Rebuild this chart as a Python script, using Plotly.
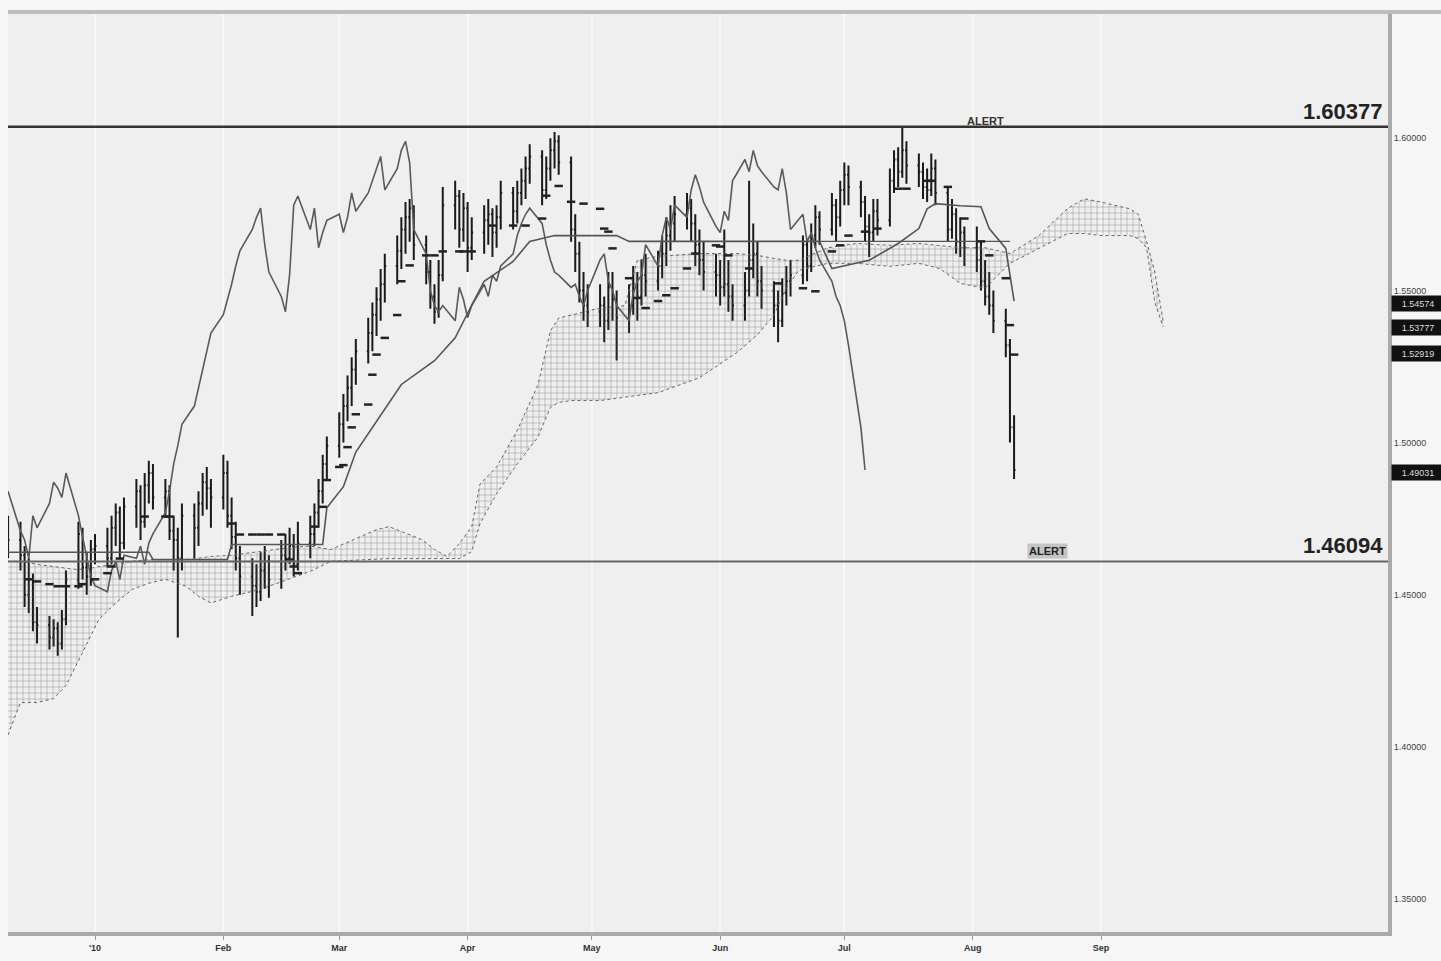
import pandas as pd
import plotly.graph_objects as go

# ---------------- data ----------------
trade_dates = pd.bdate_range("2009-12-11", "2010-08-11")

opens = [
    1.472,
    1.468, 1.463, 1.450, 1.455, 1.441,
    1.440, 1.436, 1.439, 1.434, 1.442,
    1.455, 1.470, 1.459, 1.456, 1.465,
    1.466, 1.462, 1.472, 1.477, 1.467,
    1.479, 1.484, 1.474, 1.486, 1.490,
    1.482, 1.484, 1.471, 1.468, 1.462,
    1.476, 1.472, 1.480, 1.487, 1.485,
    1.482, 1.490, 1.476, 1.469, 1.462,
    1.456, 1.453, 1.451, 1.458, 1.461,
    1.455, 1.463, 1.462, 1.466, 1.460,
    1.467, 1.470, 1.477, 1.484, 1.493,
    1.499, 1.506, 1.512, 1.518, 1.524,
    1.530, 1.536, 1.542, 1.547, 1.552,
    1.558, 1.563, 1.570, 1.574, 1.577,
    1.565, 1.556, 1.548, 1.543, 1.555,
    1.578, 1.581, 1.570, 1.577, 1.564,
    1.569, 1.573, 1.575, 1.569, 1.574,
    1.582, 1.576, 1.582, 1.586, 1.590,
    1.594, 1.583, 1.590, 1.596, 1.599,
    1.592, 1.570, 1.562, 1.550, 1.545,
    1.543, 1.545, 1.540, 1.551, 1.547,
    1.541, 1.545, 1.552, 1.548, 1.555,
    1.553, 1.558, 1.562, 1.568, 1.572,
    1.575, 1.577, 1.572, 1.565, 1.560,
    1.556, 1.555, 1.551, 1.552, 1.548,
    1.545, 1.550, 1.560, 1.562, 1.553,
    1.550, 1.545, 1.540, 1.549, 1.553,
    1.555, 1.565, 1.558, 1.568, 1.574,
    1.570, 1.578, 1.574, 1.583, 1.588,
    1.584, 1.579, 1.571, 1.569, 1.576,
    1.573, 1.586, 1.593, 1.589, 1.596,
    1.591, 1.589, 1.584, 1.583, 1.590,
    1.582, 1.570, 1.575, 1.566, 1.569,
    1.564, 1.560, 1.553, 1.548, 1.545,
    1.540, 1.532, 1.505,
]
highs = [
    1.476,
    1.474, 1.466, 1.462, 1.457, 1.446,
    1.443, 1.442, 1.441, 1.445, 1.458,
    1.474, 1.472, 1.464, 1.468, 1.470,
    1.472, 1.476, 1.480, 1.479, 1.482,
    1.488, 1.486, 1.490, 1.494, 1.493,
    1.488, 1.486, 1.476, 1.472, 1.480,
    1.480, 1.484, 1.490, 1.492, 1.488,
    1.496, 1.494, 1.482, 1.474, 1.466,
    1.462, 1.460, 1.464, 1.466, 1.463,
    1.468, 1.470, 1.472, 1.470, 1.474,
    1.476, 1.480, 1.488, 1.496, 1.502,
    1.510, 1.516, 1.522, 1.528, 1.534,
    1.541, 1.546, 1.551, 1.557, 1.562,
    1.568, 1.574, 1.579, 1.580, 1.578,
    1.568, 1.560, 1.552, 1.560, 1.584,
    1.586, 1.583, 1.582, 1.579, 1.574,
    1.578, 1.580, 1.577, 1.578, 1.586,
    1.584, 1.586, 1.590, 1.594, 1.598,
    1.596, 1.594, 1.600, 1.602, 1.601,
    1.594, 1.575, 1.566, 1.556, 1.552,
    1.552, 1.548, 1.556, 1.556, 1.550,
    1.552, 1.558, 1.556, 1.560, 1.562,
    1.563, 1.568, 1.574, 1.578, 1.581,
    1.582, 1.580, 1.575, 1.570, 1.566,
    1.562, 1.560, 1.570, 1.560, 1.552,
    1.556, 1.586, 1.572, 1.566, 1.558,
    1.553, 1.550, 1.554, 1.558, 1.560,
    1.568, 1.567, 1.572, 1.578, 1.576,
    1.582, 1.580, 1.586, 1.592, 1.591,
    1.586, 1.581, 1.575, 1.580, 1.580,
    1.590, 1.596, 1.597, 1.604, 1.599,
    1.595, 1.592, 1.590, 1.595, 1.593,
    1.584, 1.580, 1.577, 1.574, 1.571,
    1.571, 1.566, 1.560, 1.556, 1.550,
    1.544, 1.534, 1.509,
]
lows = [
    1.462,
    1.458, 1.446, 1.444, 1.438, 1.434,
    1.432, 1.433, 1.430, 1.432, 1.440,
    1.452, 1.455, 1.450, 1.453, 1.460,
    1.459, 1.460, 1.466, 1.462, 1.465,
    1.472, 1.468, 1.472, 1.480, 1.478,
    1.476, 1.468, 1.458, 1.436, 1.458,
    1.462, 1.466, 1.476, 1.478, 1.472,
    1.478, 1.472, 1.465, 1.458, 1.450,
    1.443, 1.446, 1.448, 1.452, 1.449,
    1.452, 1.458, 1.460, 1.456, 1.458,
    1.462, 1.466, 1.472, 1.480, 1.488,
    1.495, 1.500, 1.507, 1.512, 1.519,
    1.526, 1.530, 1.535, 1.540, 1.546,
    1.552, 1.557, 1.562, 1.566, 1.560,
    1.552, 1.544, 1.539, 1.541, 1.553,
    1.570, 1.564, 1.566, 1.556, 1.560,
    1.562, 1.565, 1.561, 1.564, 1.570,
    1.570, 1.572, 1.578, 1.580, 1.585,
    1.578, 1.580, 1.586, 1.590, 1.588,
    1.566, 1.556, 1.546, 1.540, 1.538,
    1.538, 1.533, 1.537, 1.540, 1.527,
    1.536, 1.542, 1.540, 1.545, 1.548,
    1.550, 1.554, 1.558, 1.563, 1.566,
    1.570, 1.566, 1.558, 1.555, 1.550,
    1.548, 1.545, 1.548, 1.543, 1.540,
    1.540, 1.548, 1.554, 1.548, 1.544,
    1.538, 1.533, 1.538, 1.545, 1.548,
    1.552, 1.553, 1.556, 1.564, 1.565,
    1.568, 1.566, 1.571, 1.578, 1.578,
    1.574, 1.566, 1.561, 1.566, 1.568,
    1.571, 1.582, 1.584, 1.587, 1.585,
    1.584, 1.580, 1.579, 1.581, 1.578,
    1.566, 1.567, 1.562, 1.561, 1.558,
    1.556, 1.550, 1.545, 1.542, 1.536,
    1.528, 1.500, 1.488,
]
closes = [
    1.468,
    1.463, 1.450, 1.455, 1.441, 1.440,
    1.436, 1.439, 1.434, 1.442, 1.455,
    1.470, 1.459, 1.456, 1.465, 1.466,
    1.462, 1.472, 1.477, 1.467, 1.479,
    1.484, 1.474, 1.486, 1.490, 1.482,
    1.484, 1.471, 1.468, 1.462, 1.476,
    1.472, 1.480, 1.487, 1.485, 1.482,
    1.490, 1.476, 1.469, 1.462, 1.456,
    1.453, 1.451, 1.458, 1.461, 1.455,
    1.463, 1.462, 1.466, 1.460, 1.467,
    1.470, 1.477, 1.484, 1.493, 1.499,
    1.506, 1.512, 1.518, 1.524, 1.530,
    1.536, 1.542, 1.547, 1.552, 1.558,
    1.563, 1.570, 1.574, 1.577, 1.565,
    1.556, 1.548, 1.543, 1.555, 1.578,
    1.581, 1.570, 1.577, 1.564, 1.569,
    1.573, 1.575, 1.569, 1.574, 1.582,
    1.576, 1.582, 1.586, 1.590, 1.594,
    1.583, 1.590, 1.596, 1.599, 1.592,
    1.570, 1.562, 1.550, 1.545, 1.543,
    1.545, 1.540, 1.551, 1.547, 1.541,
    1.545, 1.552, 1.548, 1.555, 1.553,
    1.558, 1.562, 1.568, 1.572, 1.575,
    1.577, 1.572, 1.565, 1.560, 1.556,
    1.555, 1.551, 1.552, 1.548, 1.545,
    1.550, 1.560, 1.562, 1.553, 1.550,
    1.545, 1.540, 1.549, 1.553, 1.555,
    1.565, 1.558, 1.568, 1.574, 1.570,
    1.578, 1.574, 1.583, 1.588, 1.584,
    1.579, 1.571, 1.569, 1.576, 1.573,
    1.586, 1.593, 1.589, 1.596, 1.591,
    1.589, 1.584, 1.583, 1.590, 1.582,
    1.570, 1.575, 1.566, 1.569, 1.564,
    1.560, 1.553, 1.548, 1.545, 1.540,
    1.532, 1.505, 1.491,
]
assert len(trade_dates) == len(opens) == len(highs) == len(lows) == len(closes)

CHIKOU_SHIFT = 26  # lagging span: close drawn 26 bars back

# Tenkan-sen (drawn as dash markers)
tenkan_points = [
    ("2009-12-16", 1.4551), ("2009-12-18", 1.4544), ("2009-12-21", 1.4535), ("2009-12-23", 1.4528),
    ("2009-12-25", 1.4528), ("2009-12-28", 1.4528), ("2009-12-29", 1.4535), ("2010-01-01", 1.4551),
    ("2010-01-04", 1.4571), ("2010-01-05", 1.4593), ("2010-01-07", 1.4619), ("2010-01-13", 1.4757),
    ("2010-01-18", 1.4757), ("2010-01-19", 1.4757), ("2010-02-03", 1.4734), ("2010-02-05", 1.4698),
    ("2010-02-08", 1.4698), ("2010-02-10", 1.4698), ("2010-02-12", 1.4698), ("2010-02-15", 1.4698),
    ("2010-02-17", 1.4616), ("2010-02-18", 1.4593), ("2010-02-19", 1.4571), ("2010-02-23", 1.4724),
    ("2010-02-25", 1.4789), ("2010-02-26", 1.4877), ("2010-03-01", 1.4920), ("2010-03-02", 1.4926),
    ("2010-03-03", 1.4985), ("2010-03-04", 1.5050), ("2010-03-05", 1.5093), ("2010-03-08", 1.5125),
    ("2010-03-09", 1.5223), ("2010-03-10", 1.5289), ("2010-03-12", 1.5344), ("2010-03-15", 1.5419),
    ("2010-03-16", 1.5530), ("2010-03-18", 1.5582), ("2010-03-22", 1.5615), ("2010-03-24", 1.5615),
    ("2010-03-26", 1.5628), ("2010-03-30", 1.5628), ("2010-03-31", 1.5628), ("2010-04-02", 1.5628),
    ("2010-04-07", 1.5713), ("2010-04-12", 1.5713), ("2010-04-15", 1.5713), ("2010-04-19", 1.5736),
    ("2010-04-20", 1.5811), ("2010-04-23", 1.5843), ("2010-04-26", 1.5791), ("2010-04-29", 1.5785),
    ("2010-05-03", 1.5768), ("2010-05-04", 1.5703), ("2010-05-05", 1.5693), ("2010-05-06", 1.5638),
    ("2010-05-10", 1.5540), ("2010-05-12", 1.5475), ("2010-05-14", 1.5442), ("2010-05-17", 1.5465),
    ("2010-05-19", 1.5484), ("2010-05-21", 1.5507), ("2010-05-24", 1.5572), ("2010-05-26", 1.5621),
    ("2010-05-31", 1.5648), ("2010-06-01", 1.5644), ("2010-06-03", 1.5615), ("2010-06-08", 1.5572),
    ("2010-06-15", 1.5523), ("2010-06-21", 1.5507), ("2010-06-24", 1.5497), ("2010-06-28", 1.5628),
    ("2010-06-30", 1.5648), ("2010-07-02", 1.5680), ("2010-07-06", 1.5693), ("2010-07-09", 1.5703),
    ("2010-07-14", 1.5834), ("2010-07-16", 1.5834), ("2010-07-21", 1.5860), ("2010-07-22", 1.5860),
    ("2010-07-26", 1.5840), ("2010-07-30", 1.5736), ("2010-08-03", 1.5661), ("2010-08-05", 1.5615),
    ("2010-08-09", 1.5540), ("2010-08-10", 1.5386), ("2010-08-11", 1.5289),
]

# Kijun-sen (solid line)
kijun_points = [
    ("2009-12-11", 1.4640), ("2010-01-14", 1.4640), ("2010-01-15", 1.4616), ("2010-02-02", 1.4616),
    ("2010-02-03", 1.4665), ("2010-02-25", 1.4665), ("2010-02-26", 1.4786), ("2010-03-02", 1.4855),
    ("2010-03-05", 1.4969), ("2010-03-09", 1.5050), ("2010-03-16", 1.5191), ("2010-03-24", 1.5269),
    ("2010-03-29", 1.5344), ("2010-04-02", 1.5452), ("2010-04-05", 1.5530), ("2010-04-12", 1.5595),
    ("2010-04-16", 1.5661), ("2010-04-22", 1.5680), ("2010-05-07", 1.5680), ("2010-05-10", 1.5661),
    ("2010-06-25", 1.5661), ("2010-06-28", 1.5572), ("2010-07-07", 1.5599), ("2010-07-14", 1.5654),
    ("2010-07-19", 1.5703), ("2010-07-21", 1.5768), ("2010-07-23", 1.5785), ("2010-07-29", 1.5778),
    ("2010-08-03", 1.5775), ("2010-08-05", 1.5703), ("2010-08-09", 1.5638), ("2010-08-11", 1.5465),
]

# flat span-B level line
flat_points = [("2010-06-25", 1.5661), ("2010-08-10", 1.5661)]

# Kumo (cloud): date, upper span, lower span
cloud_dates = [
    "2009-12-11", "2009-12-14", "2009-12-18", "2009-12-22", "2009-12-25", "2009-12-27", "2009-12-30",
    "2010-01-02", "2010-01-06", "2010-01-10", "2010-01-14", "2010-01-18", "2010-01-23", "2010-01-26",
    "2010-01-29", "2010-02-03", "2010-02-10", "2010-02-17", "2010-02-22", "2010-02-27", "2010-03-10",
    "2010-03-13", "2010-03-21", "2010-03-24", "2010-03-27", "2010-03-30", "2010-04-02", "2010-04-04",
    "2010-04-08", "2010-04-13", "2010-04-18", "2010-04-21", "2010-04-23", "2010-04-26", "2010-05-03",
    "2010-05-09", "2010-05-12", "2010-05-17", "2010-05-27", "2010-06-05", "2010-06-10", "2010-06-14",
    "2010-06-17", "2010-06-20", "2010-06-27", "2010-07-04", "2010-07-12", "2010-07-19", "2010-07-24",
    "2010-07-29", "2010-08-04", "2010-08-10", "2010-08-17", "2010-08-24", "2010-08-28", "2010-09-01",
    "2010-09-08", "2010-09-10", "2010-09-12", "2010-09-14", "2010-09-16",
]
cloud_upper = [
    1.4610, 1.4610, 1.4600, 1.4593, 1.4587, 1.4584, 1.4584,
    1.4593, 1.4600, 1.4610, 1.4616, 1.4616, 1.4616, 1.4620,
    1.4626, 1.4630, 1.4642, 1.4655, 1.4660, 1.4649, 1.4714,
    1.4724, 1.4681, 1.4649, 1.4626, 1.4668, 1.4724, 1.4864,
    1.4920, 1.5040, 1.5190, 1.5367, 1.5409, 1.5419, 1.5442,
    1.5450, 1.5599, 1.5612, 1.5621, 1.5621, 1.5615, 1.5605,
    1.5599, 1.5599, 1.5640, 1.5654, 1.5648, 1.5654, 1.5648,
    1.5640, 1.5640, 1.5621, 1.5680, 1.5770, 1.5801, 1.5790,
    1.5768, 1.5750, 1.5661, 1.5560, 1.5400,
]
cloud_lower = [
    1.4040, 1.4146, 1.4146, 1.4159, 1.4202, 1.4257, 1.4342,
    1.4420, 1.4473, 1.4518, 1.4538, 1.4551, 1.4528, 1.4495,
    1.4473, 1.4495, 1.4518, 1.4551, 1.4577, 1.4610, 1.4619,
    1.4619, 1.4619, 1.4619, 1.4619, 1.4619, 1.4642, 1.4734,
    1.4832, 1.4930, 1.5018, 1.5116, 1.5132, 1.5138, 1.5138,
    1.5148, 1.5155, 1.5164, 1.5213, 1.5295, 1.5354, 1.5419,
    1.5507, 1.5566, 1.5589, 1.5589, 1.5579, 1.5589, 1.5572,
    1.5523, 1.5507, 1.5589, 1.5638, 1.5687, 1.5687, 1.5680,
    1.5680, 1.5670, 1.5640, 1.5460, 1.5380,
]

alert_levels = [1.60377, 1.46094]
alert_texts = ["1.60377", "1.46094"]
y_ticks = [1.35, 1.40, 1.45, 1.50, 1.55, 1.60]
month_ticks = ["2010-01-01", "2010-02-01", "2010-03-01", "2010-04-01", "2010-05-01",
               "2010-06-01", "2010-07-01", "2010-08-01", "2010-09-01"]
month_labels = ["'10", "Feb", "Mar", "Apr", "May", "Jun", "Jul", "Aug", "Sep"]
side_boxes = [(1.5458, "1.54574"), (1.5377, "1.53777"), (1.5292, "1.52919"), (1.4903, "1.49031")]

# ---------------- figure ----------------
fig = go.Figure()

# cloud
fig.add_trace(go.Scatter(x=cloud_dates, y=cloud_lower, mode="lines",
                         line=dict(color="#666", width=1, dash="dot"),
                         hoverinfo="skip", showlegend=False))
fig.add_trace(go.Scatter(x=cloud_dates, y=cloud_upper, mode="lines",
                         line=dict(color="#666", width=1, dash="dot"),
                         fill="tonexty", fillcolor="rgba(0,0,0,0)",
                         fillpattern=dict(shape="+", fgcolor="#555", size=6, solidity=0.2,
                                          bgcolor="rgba(0,0,0,0)"),
                         hoverinfo="skip", showlegend=False))

# chikou span
fig.add_trace(go.Scatter(x=list(trade_dates[:-CHIKOU_SHIFT]), y=closes[CHIKOU_SHIFT:], mode="lines",
                         line=dict(color="#5a5a5a", width=1.6), showlegend=False))

# kijun
kx, ky = zip(*kijun_points)
fig.add_trace(go.Scatter(x=list(kx), y=list(ky), mode="lines",
                         line=dict(color="#555", width=1.6), showlegend=False))
fx, fy = zip(*flat_points)
fig.add_trace(go.Scatter(x=list(fx), y=list(fy), mode="lines",
                         line=dict(color="#555", width=1.4), showlegend=False))

# price bars
fig.add_trace(go.Ohlc(x=trade_dates, open=opens, high=highs, low=lows, close=closes,
                      increasing=dict(line=dict(color="#1a1a1a", width=2)),
                      decreasing=dict(line=dict(color="#1a1a1a", width=2)),
                      tickwidth=0.35, showlegend=False))

# tenkan markers
tx, ty = zip(*tenkan_points)
fig.add_trace(go.Scatter(x=list(tx), y=list(ty), mode="markers",
                         marker=dict(symbol="line-ew", size=6,
                                     line=dict(color="#222", width=2.5)),
                         showlegend=False))

# alert lines
fig.add_hline(y=alert_levels[0], line=dict(color="#333", width=2.5))
fig.add_hline(y=alert_levels[1], line=dict(color="#666", width=2))

# top frame line
fig.add_shape(type="line", xref="paper", yref="paper", x0=0, x1=1.04, y0=1, y1=1,
              line=dict(color="#bdbdbd", width=4))

annotations = [
    dict(x="2010-08-04", y=alert_levels[0], xref="x", yref="y", text="<b>ALERT</b>",
         showarrow=False, yanchor="bottom", yshift=-2, font=dict(size=11, color="#333")),
    dict(x=1, y=alert_levels[0], xref="paper", yref="y", text="<b>" + alert_texts[0] + "</b>",
         showarrow=False, xanchor="right", yanchor="bottom", xshift=-3, yshift=1,
         font=dict(size=22, color="#222")),
    dict(x="2010-08-19", y=alert_levels[1], xref="x", yref="y", text="<b>ALERT</b>",
         showarrow=False, yanchor="bottom", yshift=3, bgcolor="#c4c4c4", borderpad=1,
         font=dict(size=11, color="#222")),
    dict(x=1, y=alert_levels[1], xref="paper", yref="y", text="<b>" + alert_texts[1] + "</b>",
         showarrow=False, xanchor="right", yanchor="bottom", xshift=-3, yshift=2,
         font=dict(size=22, color="#222")),
]
for val, txt in side_boxes:
    annotations.append(dict(x=1, y=val, xref="paper", yref="y", text=txt, showarrow=False,
                            xanchor="left", xshift=3, bgcolor="#111", width=50, height=13,
                            font=dict(size=9, color="#ddd")))

fig.update_layout(
    width=1441, height=961,
    margin=dict(l=8, r=53, t=12, b=23),
    paper_bgcolor="#f6f6f6", plot_bgcolor="#efefef",
    font=dict(family="Liberation Sans, Arial, sans-serif", color="#333"),
    annotations=annotations,
    xaxis=dict(type="date", range=["2009-12-10 23:40", "2010-11-09 07:40"],
               rangeslider=dict(visible=False),
               tickvals=month_ticks, ticktext=["<b>" + m + "</b>" for m in month_labels],
               tickfont=dict(size=9, color="#333"),
               ticks="outside", ticklen=4, tickcolor="#999",
               showgrid=True, gridcolor="#f7f7f7", gridwidth=1.5,
               showline=True, linecolor="#aaaaaa", linewidth=4, zeroline=False),
    yaxis=dict(side="right", range=[1.33923, 1.64145],
               tickvals=y_ticks, ticktext=["%.5f" % v for v in y_ticks],
               tickfont=dict(size=9, color="#444"),
               showgrid=False, showline=True, linecolor="#aaaaaa", linewidth=4,
               ticks="", zeroline=False),
    showlegend=False,
)

fig.write_html("out.html", config={"displayModeBar": False},
               post_script="document.body.style.margin='0';document.body.style.overflow='hidden';")
